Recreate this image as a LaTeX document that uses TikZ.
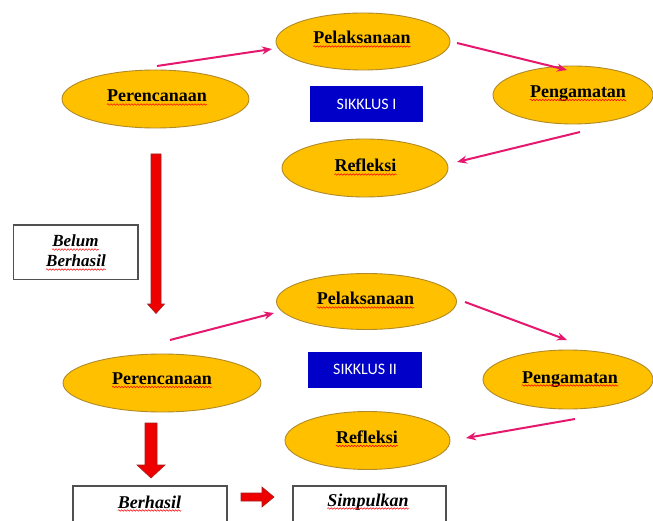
\documentclass[tikz,border=0pt]{standalone}
\usepackage{fontspec}
\setmainfont{Liberation Serif}
\newfontfamily\sikfont{Carlito}
\usetikzlibrary{shapes.geometric,decorations.pathmorphing,arrows.meta}
\definecolor{ellfill}{HTML}{FFC000}
\definecolor{ellline}{HTML}{B08A28}
\definecolor{pinkarr}{HTML}{E5186E}
\definecolor{blockred}{HTML}{EE0000}
\definecolor{blockline}{HTML}{A52020}
\definecolor{sikblue}{HTML}{0000C8}
\definecolor{boxline}{HTML}{505050}
\begin{document}
\begin{tikzpicture}[x=1pt,y=-1pt,
  ell/.style={ellipse, fill=ellfill, draw=ellline, line width=0.9pt, inner sep=0pt},
  lbl/.style={inner sep=0pt, anchor=base, font=\bfseries\fontsize{18}{21}\selectfont},
  ilbl/.style={inner sep=0pt, anchor=base, font=\bfseries\itshape\fontsize{17}{20}\selectfont},
  blbl/.style={inner sep=0pt, anchor=base, font=\bfseries\itshape\fontsize{18}{21}\selectfont},
  wavy/.style={draw=red, line width=0.5pt, decorate, decoration={snake, amplitude=0.8pt, segment length=3pt}},
  parrow/.style={draw=pinkarr, line width=2pt, -{Stealth[length=10pt,width=8pt]}},
  redblock/.style={fill=blockred, draw=blockline, line width=0.6pt},
  sikbox/.style={fill=sikblue, draw=none, inner sep=0pt},
  siktext/.style={text=white, font=\sikfont\fontsize{16}{19}\selectfont, inner sep=0pt},
  txtbox/.style={draw=boxline, line width=1.2pt, fill=white}
]
\useasboundingbox (0,0) rectangle (653,521);
\fill[white] (0,0) rectangle (653,521);
\begin{scope}
\clip (0,0) rectangle (653,521);

% ---------- Cycle I ----------
\node[ell, minimum width=187pt, minimum height=58pt] (pe1) at (155.5,99) {};
\node[ell, minimum width=174pt, minimum height=57pt] (pl1) at (363,41.5) {};
\node[ell, minimum width=160pt, minimum height=58pt] (pg1) at (573,95) {};
\node[ell, minimum width=166pt, minimum height=58pt] (rf1) at (365,168) {};
\node[sikbox, minimum width=113pt, minimum height=36pt] (sk1) at (366.5,104) {};
\node[siktext] (sk1t) at (sk1) {SIKKLUS I};

\node[lbl] (pe1t) at (157,102) {Perencanaan};
\node[lbl] (pl1t) at (362,44) {Pelaksanaan};
\node[lbl] (pg1t) at (578,97.5) {Pengamatan};
\node[lbl] (rf1t) at (365.5,172) {Refleksi};

% ---------- Cycle II ----------
\node[ell, minimum width=198pt, minimum height=58pt] (pe2) at (162,383) {};
\node[ell, minimum width=180pt, minimum height=56pt] (pl2) at (366.5,301.5) {};
\node[ell, minimum width=170pt, minimum height=59pt] (pg2) at (568,379.5) {};
\node[ell, minimum width=165pt, minimum height=58pt] (rf2) at (367.5,440.5) {};
\node[sikbox, minimum width=114pt, minimum height=36.5pt] (sk2) at (365,369.75) {};
\node[siktext] (sk2t) at (sk2) {SIKKLUS II};

\node[lbl] (pe2t) at (162,384.5) {Perencanaan};
\node[lbl] (pl2t) at (365.5,305) {Pelaksanaan};
\node[lbl] (pg2t) at (570,383) {Pengamatan};
\node[lbl] (rf2t) at (367,443.5) {Refleksi};

% ---------- text boxes ----------
\node[txtbox, minimum width=124.5pt, minimum height=54.5pt, inner sep=0pt] (bb) at (75.75,252.25) {};
\node[ilbl] (bb1) at (75.5,247) {Belum};
\node[ilbl] (bb2) at (76,267) {Berhasil};

\node[txtbox, minimum width=154pt, minimum height=50pt, inner sep=0pt] (bh) at (150,511) {};
\node[blbl] (bht) at (149.5,508) {Berhasil};
\node[txtbox, minimum width=153pt, minimum height=50pt, inner sep=0pt] (sp) at (369.5,511) {};
\node[blbl] (spt) at (368,506) {Simpulkan};

% ---------- wavy underlines ----------
\foreach \t in {pe1t,pl1t,pg1t,rf1t,pe2t,pl2t,pg2t,rf2t,bb1,bb2,bht,spt}{
  \draw[wavy] ([yshift=-2.5pt]\t.base west) -- ([yshift=-2.5pt]\t.base east);
}

% ---------- pink arrows ----------
\coordinate (a1s) at (157,66);   \coordinate (a1e) at (272,49);
\coordinate (a2s) at (457,43);   \coordinate (a2e) at (567,70);
\coordinate (a3s) at (580,132);  \coordinate (a3e) at (457,162);
\coordinate (b1s) at (170,340);  \coordinate (b1e) at (274,313);
\coordinate (b2s) at (465,302);  \coordinate (b2e) at (567,340);
\coordinate (b3s) at (575,419);  \coordinate (b3e) at (466,438);
\draw[parrow] (a1s) -- (a1e);
\draw[parrow] (a2s) -- (a2e);
\draw[parrow] (a3s) -- (a3e);
\draw[parrow] (b1s) -- (b1e);
\draw[parrow] (b2s) -- (b2e);
\draw[parrow] (b3s) -- (b3e);

% ---------- red block arrows ----------
\draw[redblock] (151,154) -- (161,154) -- (161,304) -- (164.5,304) -- (156,313.5) -- (147.5,304) -- (151,304) -- cycle;
\draw[redblock] (145,423) -- (157,423) -- (157,465) -- (165,465) -- (151,478) -- (137,465) -- (145,465) -- cycle;
\draw[redblock] (241,493) -- (262,493) -- (262,487) -- (274,497) -- (262,507) -- (262,501) -- (241,501) -- cycle;
\end{scope}
\end{tikzpicture}
\end{document}
